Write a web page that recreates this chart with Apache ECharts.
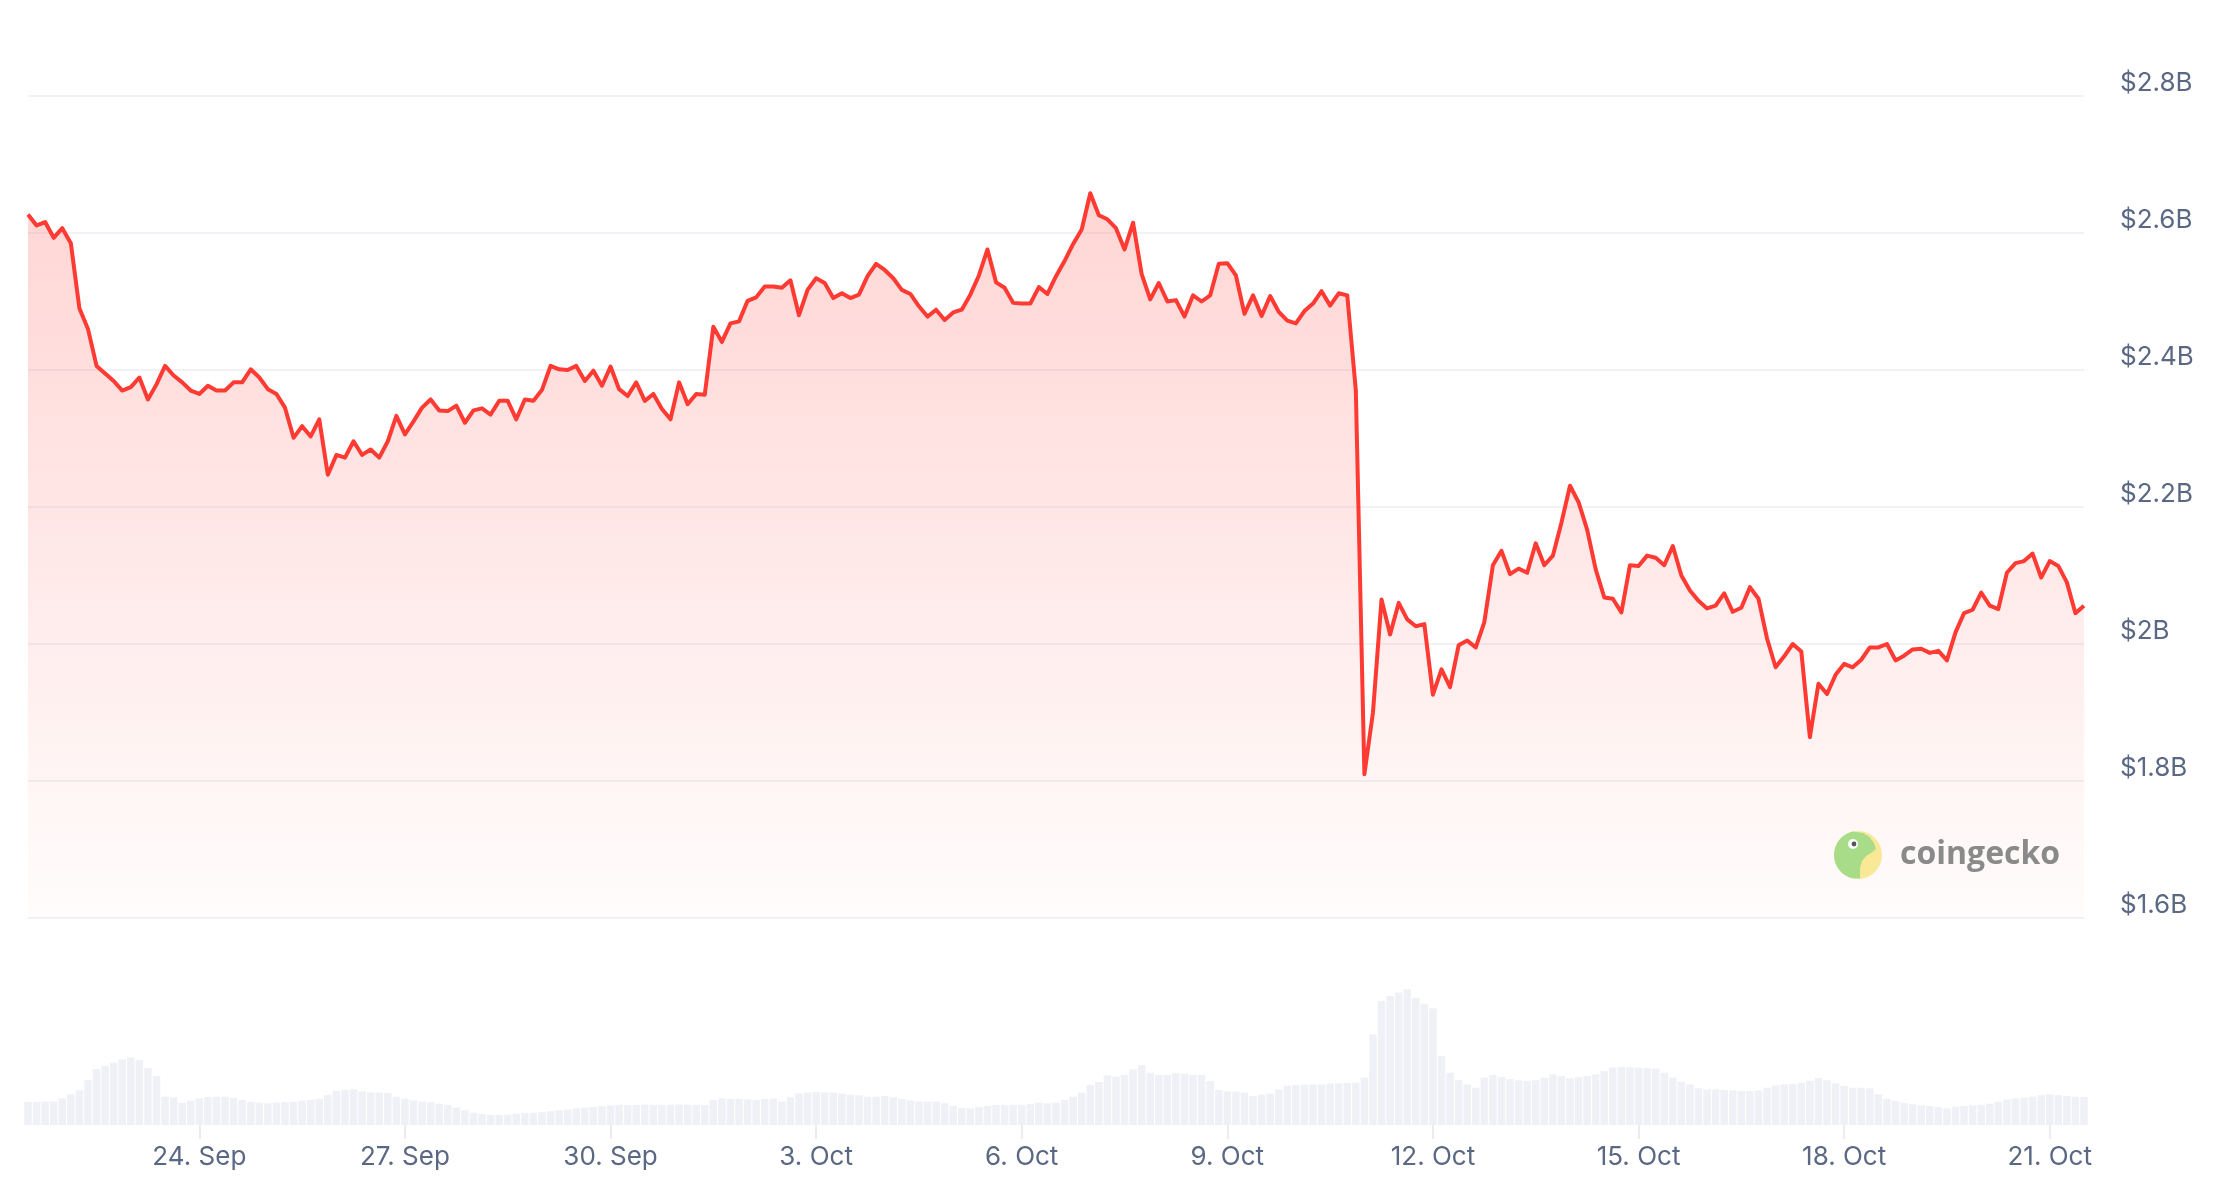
<!DOCTYPE html>
<html>
<head>
<meta charset="utf-8">
<script src="https://cdn.jsdelivr.net/npm/echarts@6/dist/echarts.min.js"></script>
<style>
html,body{margin:0;padding:0;background:#ffffff;}
#chart{width:2214px;height:1188px;}
</style>
</head>
<body>
<div id="chart"></div>
<script>
// ---- data (3-hourly samples, starting 21 Sep 2025 12:00) ----
const START_TIME = Date.UTC(2025, 8, 21, 12);
const STEP_HOURS = 3;

// market cap, billions of USD
const marketCapB = [
  2.627, 2.611, 2.616, 2.593, 2.607, 2.585, 2.49, 2.46, 2.406, 2.395,
  2.384, 2.37, 2.375, 2.389, 2.357, 2.379, 2.406, 2.392, 2.382, 2.37,
  2.365, 2.377, 2.37, 2.37, 2.382, 2.382, 2.401, 2.389, 2.372, 2.365,
  2.345, 2.301, 2.318, 2.303, 2.328, 2.247, 2.276, 2.272, 2.296, 2.276,
  2.284, 2.272, 2.296, 2.333, 2.306, 2.325, 2.345, 2.357, 2.341, 2.34,
  2.348, 2.323, 2.341, 2.344, 2.335, 2.355, 2.355, 2.328, 2.357, 2.355,
  2.371, 2.406, 2.401, 2.4, 2.406, 2.384, 2.399, 2.377, 2.405, 2.372,
  2.362, 2.382, 2.355, 2.365, 2.343, 2.328, 2.382, 2.35, 2.365, 2.364,
  2.463, 2.441, 2.468, 2.471, 2.501, 2.506, 2.522, 2.522, 2.52, 2.531,
  2.48, 2.517, 2.534, 2.527, 2.505, 2.512, 2.505, 2.51, 2.537, 2.555,
  2.546, 2.534, 2.517, 2.511, 2.493, 2.478, 2.488, 2.473, 2.484, 2.488,
  2.51, 2.538, 2.576, 2.528, 2.52, 2.498, 2.497, 2.497, 2.521, 2.511,
  2.537, 2.559, 2.584, 2.605, 2.658, 2.626, 2.62, 2.607, 2.576, 2.615,
  2.54, 2.503, 2.527, 2.5, 2.502, 2.478, 2.509, 2.5, 2.509, 2.555,
  2.556, 2.538, 2.482, 2.509, 2.479, 2.508, 2.485, 2.472, 2.468, 2.486,
  2.497, 2.515, 2.494, 2.512, 2.509, 2.37, 1.81, 1.9, 2.065, 2.014,
  2.06, 2.036, 2.026, 2.029, 1.926, 1.963, 1.937, 1.998, 2.005, 1.995,
  2.032, 2.115, 2.136, 2.102, 2.11, 2.104, 2.147, 2.115, 2.129, 2.177,
  2.231, 2.207, 2.167, 2.109, 2.068, 2.066, 2.046, 2.115, 2.114, 2.129,
  2.126, 2.115, 2.143, 2.1, 2.078, 2.063, 2.052, 2.056, 2.074, 2.047,
  2.053, 2.083, 2.066, 2.008, 1.966, 1.982, 2.0, 1.989, 1.864, 1.942,
  1.927, 1.955, 1.971, 1.966, 1.977, 1.995, 1.995, 2.0, 1.976, 1.983,
  1.992, 1.993, 1.987, 1.99, 1.976, 2.017, 2.045, 2.05, 2.075, 2.056,
  2.051, 2.104, 2.118, 2.121, 2.132, 2.097, 2.121, 2.114, 2.09, 2.045, 2.056
];

// 24h volume, relative units
const volume = [
  112, 112, 114, 115, 130, 150, 169, 220, 273, 289,
  304, 320, 330, 318, 278, 239, 138, 135, 107, 119,
  130, 137, 138, 138, 132, 122, 114, 109, 106, 109,
  111, 114, 119, 122, 128, 146, 166, 171, 174, 164,
  159, 158, 156, 138, 128, 120, 114, 111, 104, 98,
  85, 72, 60, 54, 49, 49, 50, 55, 59, 60,
  63, 67, 72, 76, 81, 85, 88, 93, 96, 98,
  97, 98, 99, 98, 98, 99, 100, 99, 98, 97,
  122, 130, 127, 127, 125, 122, 127, 128, 114, 135,
  154, 159, 161, 159, 158, 154, 148, 145, 138, 138,
  141, 135, 128, 120, 115, 114, 114, 106, 93, 83,
  81, 88, 93, 98, 98, 98, 98, 102, 109, 106,
  109, 122, 138, 158, 195, 210, 242, 236, 244, 272,
  293, 255, 244, 244, 254, 250, 244, 244, 215, 171,
  164, 163, 158, 141, 148, 153, 174, 192, 195, 197,
  198, 198, 202, 203, 205, 206, 231, 442, 605, 629,
  646, 662, 621, 592, 569, 337, 255, 220, 198, 182,
  231, 244, 234, 224, 218, 215, 218, 231, 247, 239,
  228, 234, 239, 247, 263, 280, 283, 281, 280, 278,
  275, 255, 231, 211, 198, 179, 174, 174, 171, 169,
  166, 166, 169, 182, 192, 198, 200, 206, 216, 229,
  218, 203, 190, 182, 182, 179, 150, 128, 117, 107,
  101, 96, 93, 88, 81, 89, 93, 96, 98, 104,
  114, 124, 130, 133, 138, 146, 150, 146, 141, 138, 137
];

const xTickDates = ['2025-09-24', '2025-09-27', '2025-09-30', '2025-10-03', '2025-10-06',
                    '2025-10-09', '2025-10-12', '2025-10-15', '2025-10-18', '2025-10-21'];
const xTickLabels = ['24. Sep', '27. Sep', '30. Sep', '3. Oct', '6. Oct',
                     '9. Oct', '12. Oct', '15. Oct', '18. Oct', '21. Oct'];
const yTickValues = [1.6, 1.8, 2.0, 2.2, 2.4, 2.6, 2.8];
const yTickLabels = ['$1.6B', '$1.8B', '$2B', '$2.2B', '$2.4B', '$2.6B', '$2.8B'];

// ---- build ----
const STEP_MS = STEP_HOURS * 3600 * 1000;
const timeAt = i => START_TIME + i * STEP_MS;
const priceData = marketCapB.map((v, i) => [timeAt(i), v]);
const volumeData = volume.map((v, i) => [timeAt(i), v]);
const xMin = timeAt(0);
const xMax = timeAt(marketCapB.length - 1);
const xTickValues = xTickDates.map(d => Date.parse(d + 'T00:00:00Z'));

const labelColor = '#5b6884';
const fontFamily = 'Inter, "Noto Sans", sans-serif';

const chart = echarts.init(document.getElementById('chart'), null, {renderer: 'canvas'});

function xLabel(val) {
  for (let k = 0; k < xTickValues.length; k++) {
    if (Math.abs(xTickValues[k] - val) < 60000) return xTickLabels[k];
  }
  return '';
}

// watermark logo geometry (decoration only)
const cx = 1858, cy = 855, r = 24;
const geckoPts = [];
for (let a = 105; a <= 262; a += 8) {
  const rad = a * Math.PI / 180;
  geckoPts.push([cx + r * Math.cos(rad), cy + r * Math.sin(rad)]);
}
[[5, -22], [11, -18.5], [16, -12], [18, -6], [13, -2], [8, 1], [4, 6], [2, 13], [2, 23.6]]
  .forEach(p => geckoPts.push([cx + p[0], cy + p[1]]));

chart.setOption({
  animation: false,
  backgroundColor: '#ffffff',
  grid: [
    {left: 28, right: 130, top: 96, height: 822},
    {left: 28, right: 130, top: 920, height: 205}
  ],
  xAxis: [
    {type: 'value', gridIndex: 0, min: xMin, max: xMax, show: false, splitLine: {show: false}},
    {
      type: 'value', gridIndex: 1, min: xMin, max: xMax,
      axisLine: {show: false},
      splitLine: {show: false},
      axisTick: {show: true, customValues: xTickValues, length: 14,
                 lineStyle: {color: '#e3e6ec', width: 1.5}},
      axisLabel: {
        customValues: xTickValues,
        margin: 19,
        fontSize: 26,
        fontFamily: fontFamily,
        color: labelColor,
        formatter: xLabel
      }
    }
  ],
  yAxis: [
    {
      type: 'value', gridIndex: 0, position: 'right',
      min: 1.6, max: 2.8, interval: 0.2,
      axisLine: {show: false},
      axisTick: {show: false},
      splitLine: {lineStyle: {color: '#eceef3', width: 1.5}},
      axisLabel: {
        margin: 36,
        align: 'left',
        verticalAlign: 'bottom',
        lineHeight: 26,
        fontSize: 26,
        fontFamily: fontFamily,
        color: labelColor,
        formatter: function (val) {
          const idx = Math.round((val - yTickValues[0]) / 0.2);
          return yTickLabels[idx] || '';
        }
      }
    },
    {type: 'value', gridIndex: 1, min: 0, max: 1000, show: false, splitLine: {show: false}}
  ],
  series: [
    {
      name: 'Volume',
      type: 'bar',
      xAxisIndex: 1, yAxisIndex: 1,
      data: volumeData,
      barWidth: 7.5,
      itemStyle: {color: '#eff1f6'},
      silent: true
    },
    {
      name: 'Market Cap',
      type: 'line',
      xAxisIndex: 0, yAxisIndex: 0,
      data: priceData,
      showSymbol: false,
      symbol: 'none',
      smooth: false,
      lineStyle: {color: '#ff3a33', width: 4, join: 'round'},
      areaStyle: {
        color: new echarts.graphic.LinearGradient(0, 0, 0, 1, [
          {offset: 0, color: 'rgba(255,58,51,0.3)'},
          {offset: 1, color: 'rgba(255,58,51,0.02)'}
        ])
      },
      z: 3
    }
  ],
  graphic: [
    {type: 'circle', z: 10, shape: {cx: cx, cy: cy, r: r}, style: {fill: '#f9e896'}},
    {type: 'polygon', z: 11, shape: {points: geckoPts}, style: {fill: '#a8dc88'}},
    {type: 'circle', z: 12, shape: {cx: cx - 5, cy: cy - 11, r: 5}, style: {fill: '#ffffff'}},
    {type: 'circle', z: 13, shape: {cx: cx - 4, cy: cy - 11, r: 2.4}, style: {fill: '#555555'}},
    {
      type: 'text', z: 10, x: 1900, y: cy,
      style: {
        text: 'coingecko',
        fill: '#8a8a8a',
        font: 'bold 32px "Open Sans", Lato, sans-serif',
        verticalAlign: 'middle',
        align: 'left'
      }
    }
  ]
});
</script>
</body>
</html>
